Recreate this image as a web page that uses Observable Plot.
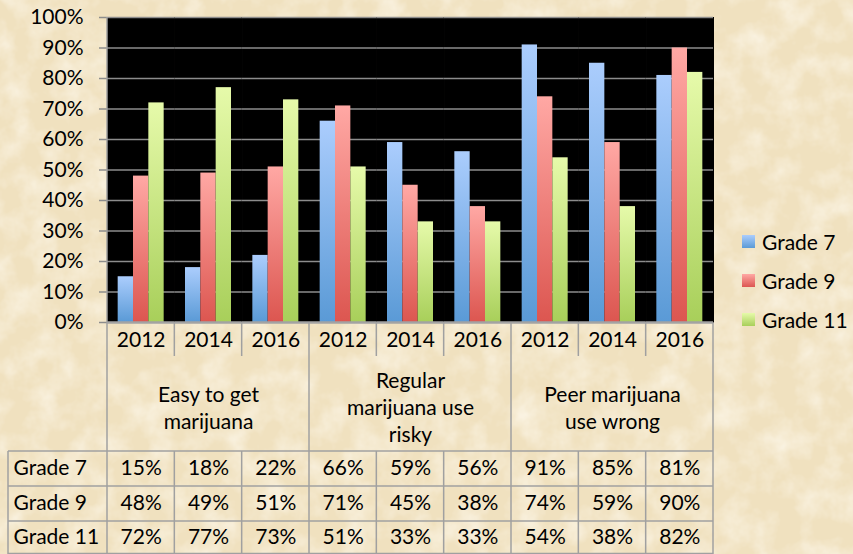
<!DOCTYPE html>
<html><head><meta charset="utf-8">
<script src="https://cdn.jsdelivr.net/npm/d3@7"></script>
<script src="https://cdn.jsdelivr.net/npm/@observablehq/plot@0.6"></script>
<style>
html,body{margin:0;padding:0;}
body{width:853px;height:554px;overflow:hidden;background-color:#f0e1bf;font-family:Lato,sans-serif;}
#wrap{position:relative;width:853px;height:554px;
background-image:url("data:image/svg+xml;utf8,<svg xmlns='http://www.w3.org/2000/svg' width='853' height='554'><filter id='n'><feTurbulence type='fractalNoise' baseFrequency='0.035' numOctaves='4' seed='7'/><feColorMatrix values='0 0 0 0 0.99  0 0 0 0 0.95  0 0 0 0 0.86  0 0 0 1.3 -0.5'/></filter><rect width='100%' height='100%' filter='url(%23n)'/></svg>");}
#wrap svg{position:absolute;left:0;top:0;}
#legend{position:absolute;left:742px;top:222px;font-size:21px;color:#000;}
#legend .it{height:39px;display:flex;align-items:center;}
#legend .sw{width:13px;height:13px;margin-right:7px;}
</style></head>
<body><div id="wrap"><div id="legend"></div></div>
<script>
const categories = ["Easy to get\nmarijuana", "Regular\nmarijuana use\nrisky", "Peer marijuana\nuse wrong"];
const years = ["2012", "2014", "2016"];
const grades = ["Grade 7", "Grade 9", "Grade 11"];
const grade7 = [15, 18, 22, 66, 59, 56, 91, 85, 81];
const grade9 = [48, 49, 51, 71, 45, 38, 74, 59, 90];
const grade11 = [72, 77, 73, 51, 33, 33, 54, 38, 82];
const yTicks = [0, 10, 20, 30, 40, 50, 60, 70, 80, 90, 100];

const series = [grade7, grade9, grade11];
const gradIds = ["g7", "g9", "g11"];
const gradStops = [["#abcdfd", "#5a9ad6"], ["#ffa8a4", "#dc5650"], ["#e6faaa", "#a8cf5a"]];

const cols = [];
categories.forEach((c, ci) => years.forEach((y, yi) => cols.push({key: ci + "|" + y, cat: c, ci, year: y, yi})));
const keys = cols.map(d => d.key);
const rows = [];
series.forEach((s, gi) => s.forEach((v, i) => rows.push({key: keys[i], grade: grades[gi], gi, value: v})));

const rowDy = [146, 181, 215];

const marks = [
  Plot.frame({fill: "black", stroke: "black", strokeWidth: 1}),
  Plot.ruleY(yTicks.filter(t => t > 0), {y: d => d, stroke: "#8c8c8c", strokeWidth: 1.5}),
  ...grades.map((g, gi) => Plot.barY(rows.filter(r => r.gi === gi), {fx: "key", x: "grade", y: "value", fill: `url(#${gradIds[gi]})`})),
  Plot.ruleY([0], {stroke: "#a3a3a3", strokeWidth: 2.5}),
  Plot.text(cols, {fx: "key", text: "year", frameAnchor: "bottom", lineAnchor: "middle", dy: 18, fontSize: 21}),
  Plot.text(cols.filter(d => d.yi === 1), {fx: "key", text: "cat", frameAnchor: "bottom", lineAnchor: "middle", dy: 84, fontSize: 21, lineHeight: 1.28}),
  ...grades.map((g, gi) => Plot.text(rows.filter(r => r.gi === gi), {fx: "key", text: d => d.value + "%", frameAnchor: "bottom", lineAnchor: "middle", dy: rowDy[gi], fontSize: 21})),
  ...grades.map((g, gi) => Plot.text([{key: keys[0], label: g}], {fx: "key", text: "label", frameAnchor: "bottom-left", lineAnchor: "middle", textAnchor: "start", dx: -94, dy: rowDy[gi], fontSize: 21}))
];

const plot = Plot.plot({
  width: 853, height: 554,
  marginTop: 17, marginBottom: 232, marginLeft: 107, marginRight: 140,
  style: {background: "transparent", fontFamily: "Lato, sans-serif", fontSize: "21px", color: "#000", overflow: "visible"},
  fx: {domain: keys, padding: 0, round: false, axis: null, label: null},
  x: {domain: grades, paddingInner: 0, paddingOuter: 0.696, round: false, axis: null, label: null},
  y: {domain: [0, 100], ticks: yTicks, tickFormat: d => d + "%", tickSize: 8, tickPadding: 16, label: null},
  marks
});

const svg = d3.select(plot);
const defs = svg.insert("defs", ":first-child");
gradIds.forEach((id, i) => {
  const lg = defs.append("linearGradient").attr("id", id).attr("x1", 0).attr("y1", 0).attr("x2", 0).attr("y2", 1);
  lg.append("stop").attr("offset", "0%").attr("stop-color", gradStops[i][0]);
  lg.append("stop").attr("offset", "100%").attr("stop-color", gradStops[i][1]);
});
svg.selectAll("[aria-label='y-axis tick'] path, g[aria-label='y-axis tick']").attr("stroke", "#8c8c8c").attr("stroke-width", 1.5);

// table grid lines, positioned with Plot's scales
const fx = plot.scale("fx");
const ys = plot.scale("y");
const bw = fx.bandwidth;
const y0 = ys.apply(0), yTop = ys.apply(100);
const yearRowBottom = y0 + 34, tableTop = y0 + 129, tableBottom = 554;
const lineG = svg.append("g").attr("stroke", "#a0a0a0").attr("stroke-width", 1.5);
const xAt = i => i < keys.length ? fx.apply(keys[i]) : fx.apply(keys[keys.length - 1]) + bw;
for (let i = 0; i <= keys.length; i++) {
  const x = xAt(i);
  const isCat = i % 3 === 0;
  if (isCat) {
    lineG.append("line").attr("x1", x).attr("x2", x).attr("y1", i === 0 ? yTop : y0).attr("y2", tableBottom);
  } else {
    lineG.append("line").attr("x1", x).attr("x2", x).attr("y1", y0).attr("y2", yearRowBottom);
    lineG.append("line").attr("x1", x).attr("x2", x).attr("y1", tableTop).attr("y2", tableBottom);
  }
}
const leftX = fx.apply(keys[0]) - 99;
lineG.append("line").attr("x1", leftX).attr("x2", leftX).attr("y1", tableTop).attr("y2", tableBottom);
[tableTop, tableTop + 35, tableTop + 70, tableBottom - 0.5].forEach(y => {
  lineG.append("line").attr("x1", leftX).attr("x2", xAt(keys.length)).attr("y1", y).attr("y2", y);
});

document.getElementById("wrap").appendChild(plot);

const legend = d3.select("#legend");
grades.forEach((g, i) => {
  const it = legend.append("div").attr("class", "it");
  it.append("div").attr("class", "sw").style("background", `linear-gradient(${gradStops[i][0]}, ${gradStops[i][1]})`);
  it.append("span").text(g);
});
</script>
</body></html>
